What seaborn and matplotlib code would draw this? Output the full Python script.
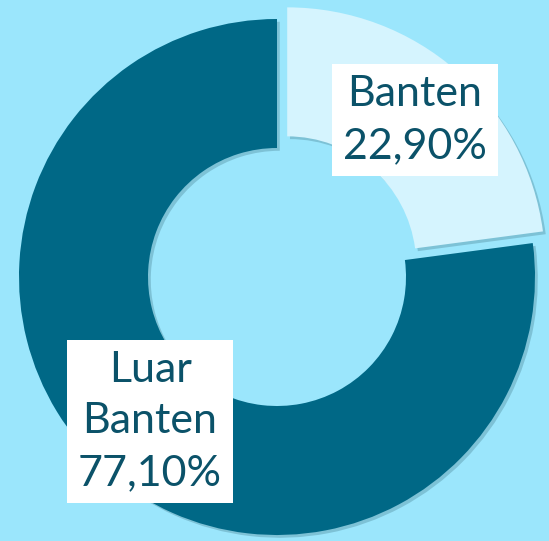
import matplotlib
matplotlib.use("Agg")
import matplotlib.pyplot as plt
import matplotlib.patheffects as pe
import seaborn as sns

# data
regions = ["Banten", "Luar Banten"]
shares = [22.90, 77.10]
label_text = ["Banten\n22,90%", "Luar\nBanten\n77,10%"]
label_pos = [(0.535, 0.608), (-0.492, -0.560)]

bg = "#9be6fc"
colors = ["#d5f4fe", "#006886"]
text_color = "#0b5269"

sns.set_style("white")
plt.rcParams["font.family"] = ["Lato", "DejaVu Sans"]

fig = plt.figure(figsize=(5.49, 5.41), dpi=100, facecolor=bg)
ax = fig.add_axes([0, 0, 1, 1])
ax.set_facecolor(bg)

wedges, _ = ax.pie(
    shares,
    colors=colors,
    startangle=90,
    counterclock=False,
    explode=[0.06, 0],
    radius=1.0,
    wedgeprops=dict(width=0.5, linewidth=0),
)
for w in wedges:
    w.set_path_effects([pe.SimplePatchShadow(offset=(2, -2), shadow_rgbFace="#3a6f80", alpha=0.3), pe.Normal()])

for txt, (x, y) in zip(label_text, label_pos):
    ax.text(x, y, txt, ha="center", va="center", fontsize=31, color=text_color,
            linespacing=1.45,
            bbox=dict(boxstyle="square,pad=0.25", facecolor="white", edgecolor="none"))

ax.set_xlim(-277 / 258, 272 / 258)
ax.set_ylim(-264 / 258, 277 / 258)
ax.set_aspect("auto")
ax.axis("off")

fig.savefig("out.png", dpi=100, facecolor=bg)
